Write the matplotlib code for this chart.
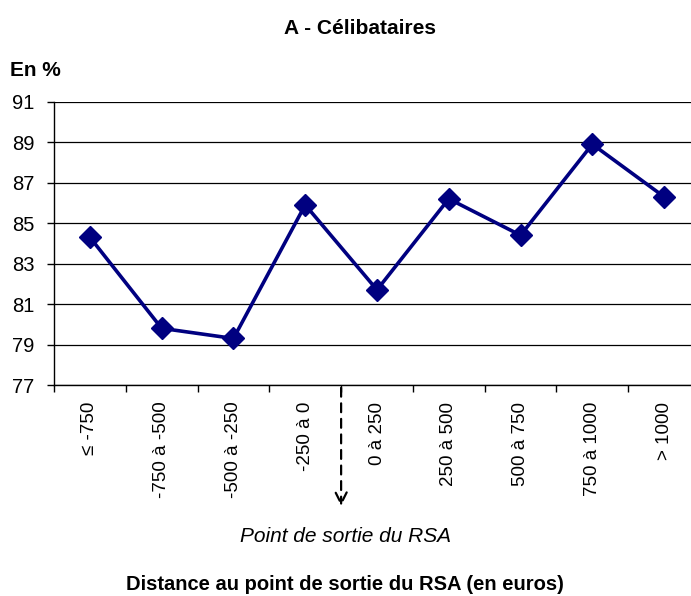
import matplotlib
matplotlib.use("Agg")
import matplotlib.pyplot as plt
from matplotlib.ticker import FixedLocator

plt.rcParams['font.family'] = ['Liberation Sans', 'DejaVu Sans']

categories = ["≤ -750", "-750 à -500", "-500 à -250", "-250 à 0", "0 à 250",
              "250 à 500", "500 à 750", "750 à 1000", "> 1000"]
values = [84.3, 79.8, 79.3, 85.9, 81.7, 86.2, 84.4, 88.9, 86.3]
yticks = [77, 79, 81, 83, 85, 87, 89, 91]

fig = plt.figure(figsize=(6.91, 5.96), dpi=100)
ax = fig.add_axes([54/691, 1-385/596, 646/691, (385-101.7)/596])

x = list(range(len(categories)))
ax.plot(x, values, color='#000080', lw=2.6, marker='D', markersize=11,
        markerfacecolor='#000080', markeredgecolor='#000080', zorder=3, clip_on=False)

ax.set_xlim(-0.5, len(categories)-0.5)
ax.set_ylim(77, 91)
ax.set_yticks(yticks)
ax.set_yticklabels([str(v) for v in yticks], fontsize=14.5)
ax.yaxis.grid(True, color='black', lw=0.9)
ax.set_axisbelow(True)

ax.set_xticks(x)
ax.set_xticklabels(categories, rotation=90, fontsize=13.5)
ax.tick_params(axis='x', which='major', length=0, pad=12)
ax.xaxis.set_minor_locator(FixedLocator([i + 0.5 for i in range(-1, len(categories))]))
ax.tick_params(axis='x', which='minor', length=5, width=1, direction='out')
ax.tick_params(axis='y', length=5, width=1, direction='out', pad=9)

for s in ['top', 'right']:
    ax.spines[s].set_visible(False)
for s in ['left', 'bottom']:
    ax.spines[s].set_linewidth(1)
    ax.spines[s].set_color('black')

fig.text(360/691, 1-28/596, "A - Célibataires", ha='center', va='center',
         fontsize=15, fontweight='bold')
fig.text(10/691, 1-71/596, "En %", ha='left', va='center', fontsize=15, fontweight='bold')

# arrow at the RSA exit point (boundary between "-250 à 0" and "0 à 250")
ax.annotate("", xy=(3.5, -0.437), xycoords=('data', 'axes fraction'),
            xytext=(3.5, 0.0), textcoords=('data', 'axes fraction'),
            arrowprops=dict(arrowstyle='->', linestyle=(0, (4, 3)), lw=1.6,
                            color='black', mutation_scale=20),
            annotation_clip=False)

fig.text(345/691, 1-537/596, "Point de sortie du RSA", ha='center', va='center',
         fontsize=15, fontstyle='italic')
fig.text(345/691, 1-585/596, "Distance au point de sortie du RSA (en euros)",
         ha='center', va='center', fontsize=14.5, fontweight='bold')

fig.savefig("out.png", dpi=100)
